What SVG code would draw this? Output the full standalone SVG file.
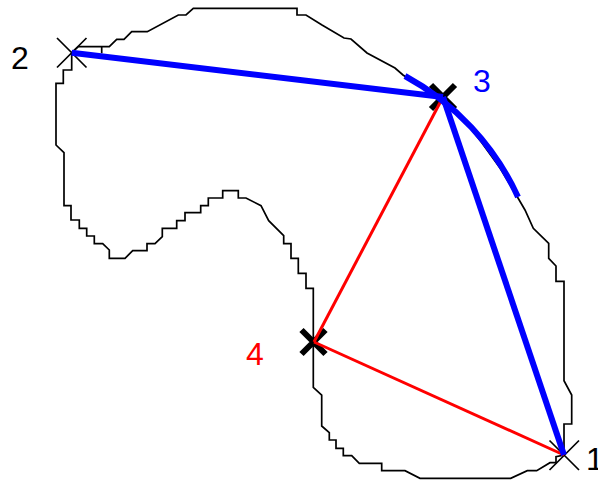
<svg xmlns="http://www.w3.org/2000/svg" width="598" height="481" viewBox="0 0 598 481">
<style>
.outline{fill:none;stroke:#000;stroke-width:1.7;stroke-linejoin:miter}
.thinx{stroke:#000;stroke-width:1.7;fill:none}
.thickx{stroke:#000;stroke-width:6;fill:none}
.blue{stroke:#0000ff;stroke-width:6;fill:none;stroke-linecap:butt}
.red{stroke:#ff0000;stroke-width:3;fill:none}
.lbl{font-family:"Liberation Sans",Arial,sans-serif;font-size:32px}
</style>
<rect width="598" height="481" fill="#fff"/>
<g id="region">
<path class="outline" d="M71.7,52.7 L78.3,46.7 L109.3,46.7 L116.7,39.3 L124,39.3 L131.7,31.7 L147.3,31.7 L178.3,15 L186,15 L193.3,8.3 L297,8.3 L297,15 L306,15 L322,25 L344,38 L351,39 L367,53 L395,68 L403,75 L420,86 L443,100 L465,121 L482,143 L500,168 L518,198 L525,210 L533.3,228.3 L548.7,243.3 L548.7,258.3 L556,266 L556,281.3 L564,281.3 L564,380.7 L571.7,395 L571.7,424 L564,424 L564,455 L556,456.7 L556,462.7 L550,462.7 L536.7,470.7 L527.3,470.7 L510.7,478.3 L420,478.3 L405,470.7 L381.7,470.7 L381.7,463.3 L359.3,463.3 L351.7,455.7 L343.3,455.7 L343.3,448.3 L336,448.3 L336,440 L329.3,440 L329.3,432.7 L321.7,426 L321.7,395 L313.3,387.3 L313.3,288.3 L306,288.3 L306,273.3 L298.3,273.3 L298.3,258.3 L291,258.3 L291,243.7 L283.7,243.7 L283.7,235.7 L268.7,220.7 L261,205.7 L246,198 L238.3,198 L238.3,190.7 L222.7,190.7 L222.7,198 L208.3,198 L208.3,205.7 L200.7,205.7 L200.7,212.7 L185,212.7 L185,220.7 L176.7,220.7 L176.7,228.3 L162.3,228.3 L162.3,236.7 L155,243.7 L147,243.7 L147,250.7 L132.7,250.7 L125,258.3 L109.3,258.3 L109.3,250 L102.7,243.7 L94.3,243.7 L94.3,236 L86.7,236 L86.7,228.3 L79.3,228.3 L79.3,220 L71,220 L71,205.7 L64,205.7 L64,152.7 L56,145 L56,83.3 L63.3,83.3 L63.3,70 L71.7,70 Z"/>
<path class="outline" d="M101.7,46.7 L101.7,53.3"/>
</g>
<g id="node2">
<path class="thinx" d="M57,38 L86.5,67.5 M86.5,38 L57,67.5"/>
<text class="lbl" x="11" y="69" fill="#000">2</text>
</g>
<g id="node3">
<path class="thickx" d="M431,85 L455,109 M455,85 L431,109"/>
<text class="lbl" x="473" y="91.5" fill="#0000ff">3</text>
</g>
<g id="node4">
<path class="thickx" d="M301.5,330 L325.5,354 M325.5,330 L301.5,354"/>
<text class="lbl" x="246" y="365" fill="#ff0000">4</text>
</g>
<g id="node1">
<path class="thinx" d="M549.5,440.5 L579,470 M579,440.5 L549.5,470"/>
<text class="lbl" x="586" y="470" fill="#000">1</text>
</g>
<g id="connectors">
<line class="red" x1="443" y1="97" x2="314" y2="342"/>
<line class="red" x1="314" y1="342" x2="564" y2="455"/>
<line class="blue" x1="71.7" y1="52.7" x2="443" y2="97"/>
<line class="blue" x1="443" y1="97" x2="564" y2="455"/>
<path class="blue" d="M405,76 A261,261 0 0 1 518,197"/>
</g>
</svg>
